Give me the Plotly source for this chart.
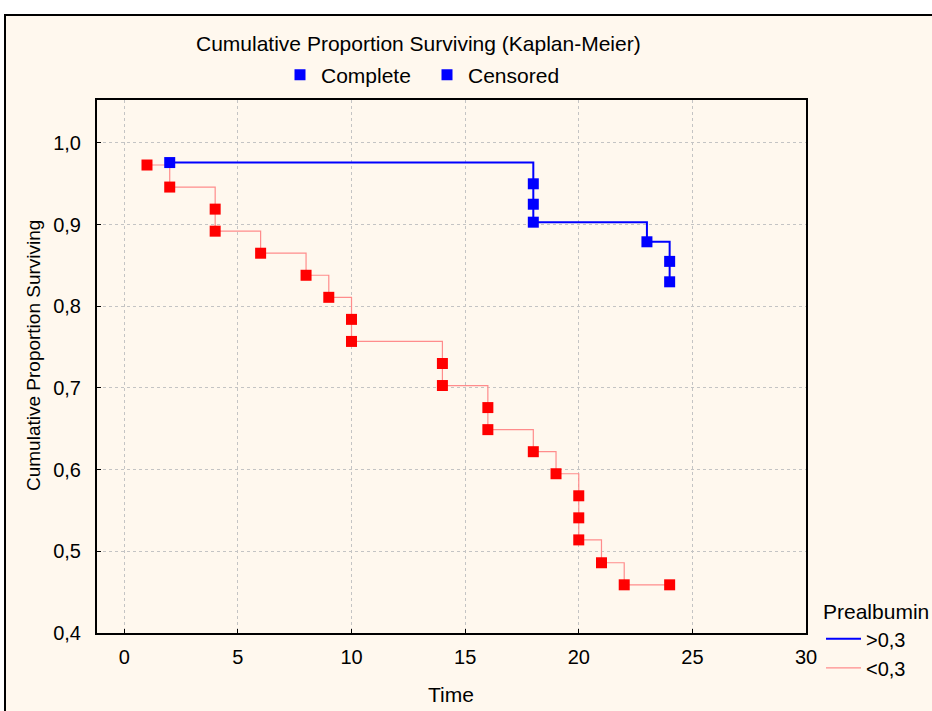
import plotly.graph_objects as go

# Kaplan-Meier data
blue_x = [2, 18, 18, 18, 23, 24, 24]
blue_y = [0.976, 0.950, 0.925, 0.903, 0.879, 0.855, 0.830]

red_x = [1, 2, 4, 4, 6, 8, 9, 10, 10, 14, 14, 16, 16, 18, 19, 20, 20, 20, 21, 22, 24]
red_y = [0.973, 0.946, 0.919, 0.892, 0.865, 0.838, 0.811, 0.784, 0.757, 0.730, 0.703,
         0.676, 0.649, 0.622, 0.595, 0.568, 0.541, 0.514, 0.486, 0.459, 0.459]

x_ticks = [0, 5, 10, 15, 20, 25, 30]
y_ticks = [0.4, 0.5, 0.6, 0.7, 0.8, 0.9, 1.0]
y_tick_labels = ["0,4", "0,5", "0,6", "0,7", "0,8", "0,9", "1,0"]

FONT = "Liberation Sans, Arial, sans-serif"
BLUE = "#0000FF"
RED = "#FF0000"
PINK = "#FF8C8C"

# plot area in pixels
W, H = 932, 711
L, R, T, B = 97, 806, 100, 633


def px_x(p):
    return (p - L) / (R - L)


def px_y(p):
    return (B - p) / (B - T)


fig = go.Figure()

# step lines (legend 2)
fig.add_trace(go.Scatter(x=blue_x, y=blue_y, mode="lines", line=dict(color=BLUE, width=2, shape="hv"),
                         name=">0,3", legend="legend2", legendgroup="a"))
fig.add_trace(go.Scatter(x=red_x, y=red_y, mode="lines", line=dict(color=PINK, width=1.2, shape="hv"),
                         name="<0,3", legend="legend2", legendgroup="b"))
# markers
fig.add_trace(go.Scatter(x=red_x, y=red_y, mode="markers",
                         marker=dict(symbol="square", size=11, color=RED, line=dict(width=0)),
                         showlegend=False))
fig.add_trace(go.Scatter(x=blue_x, y=blue_y, mode="markers",
                         marker=dict(symbol="square", size=11, color=BLUE, line=dict(width=0)),
                         showlegend=False))
# top legend entries
for nm in ["Complete", "Censored"]:
    fig.add_trace(go.Scatter(x=[None], y=[None], mode="markers", name=nm,
                             marker=dict(symbol="square", size=11, color=BLUE),
                             legend="legend"))

fig.update_layout(
    width=W, height=H,
    margin=dict(l=L, r=W - R, t=T, b=H - B, autoexpand=False),
    paper_bgcolor="white",
    plot_bgcolor="white",
    font=dict(family=FONT, size=20, color="black"),
    showlegend=True,
    legend=dict(orientation="h", x=px_x(279), y=px_y(75), xanchor="left", yanchor="middle",
                bgcolor="rgba(0,0,0,0)", font=dict(size=21), itemwidth=32,
                entrywidth=100, entrywidthmode="pixels"),
    legend2=dict(x=px_x(821), y=px_y(592), xanchor="left", yanchor="top",
                 bgcolor="rgba(0,0,0,0)", font=dict(size=20), itemwidth=35,
                 title=dict(text="Prealbumin", font=dict(size=21)),
                 traceorder="grouped", tracegroupgap=0),
)

fig.update_xaxes(range=[-1.2, 30], tickvals=x_ticks, ticks="inside", ticklen=4, tickcolor="black",
                 showgrid=True, gridcolor="#C4C4C4", griddash="3px,3px", gridwidth=1,
                 showline=True, linecolor="black", linewidth=2, mirror=True, zeroline=False,
                 tickfont=dict(size=20), ticklabelstandoff=5)
fig.update_yaxes(range=[0.4, 1.0526], tickvals=y_ticks, ticktext=y_tick_labels, ticks="inside",
                 ticklen=4, tickcolor="black",
                 showgrid=True, gridcolor="#C4C4C4", griddash="3px,3px", gridwidth=1,
                 showline=True, linecolor="black", linewidth=2, mirror=True, zeroline=False,
                 tickfont=dict(size=20), ticklabelstandoff=10)

# outer cream frame
fig.add_shape(type="rect", xref="paper", yref="paper", layer="below",
              x0=px_x(5), x1=px_x(945), y0=px_y(725), y1=px_y(15),
              fillcolor="#FFF8EE", line=dict(color="black", width=2))

fig.add_annotation(text="Cumulative Proportion Surviving (Kaplan-Meier)", xref="paper", yref="paper",
                   x=px_x(418), y=px_y(44), showarrow=False, font=dict(size=21),
                   xanchor="center", yanchor="middle")
fig.add_annotation(text="Cumulative Proportion Surviving", xref="paper", yref="paper",
                   x=px_x(33), y=px_y(356), showarrow=False, textangle=-90, font=dict(size=19),
                   xanchor="center", yanchor="middle")
fig.add_annotation(text="Time", xref="paper", yref="paper",
                   x=px_x(451), y=px_y(694), showarrow=False, font=dict(size=21),
                   xanchor="center", yanchor="middle")

fig.write_html("out.html", config={"displayModeBar": False},
               post_script="document.body.style.margin='0';")
